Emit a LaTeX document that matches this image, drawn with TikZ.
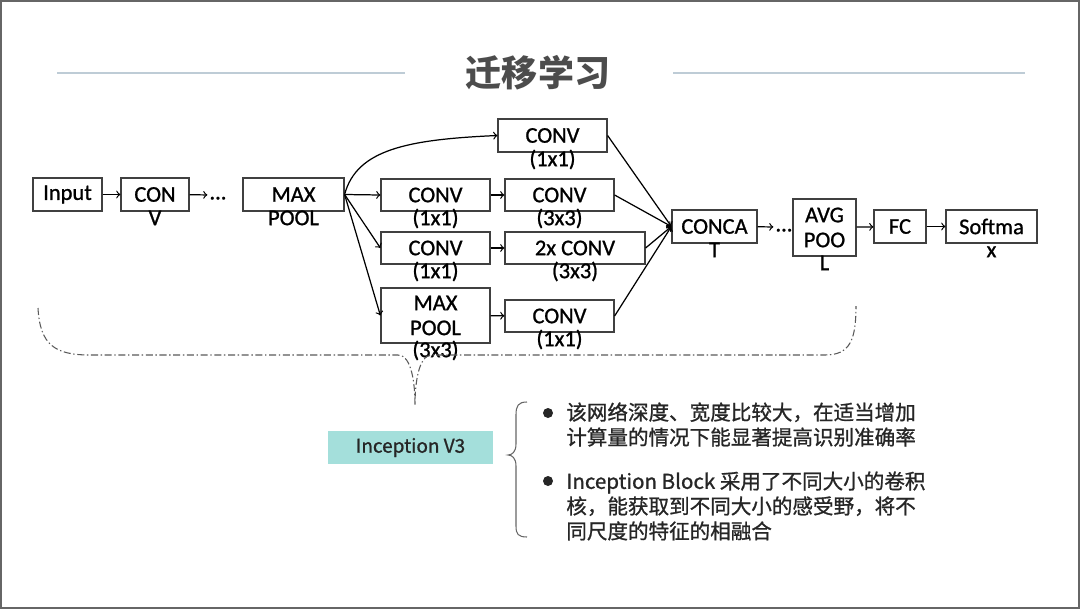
\documentclass[tikz,border=0pt]{standalone}
\usepackage{fontspec}
\setmainfont{Carlito}
\newfontfamily\boxfam[FakeBold=1]{Carlito}
\newfontfamily\cjk{Noto Sans CJK SC}
\newfontfamily\cjkm[FakeBold=1]{Noto Sans CJK SC}
\usepackage{tikz}
\newcommand{\blkfont}{\boxfam\fontsize{12.8}{14.2}\selectfont}
\definecolor{tealbox}{RGB}{164,223,219}
\definecolor{rulegray}{RGB}{190,204,214}

\begin{document}
\begin{tikzpicture}[x=0.02cm, y=-0.02cm,
  blk/.style={draw=black!75, line width=0.7pt, font=\blkfont, inner sep=0pt, minimum height=0.66cm, align=center},
  lbl/.style={font=\blkfont, inner sep=0pt, text height=.75em, text depth=.25em},
  every label/.style={lbl}, label distance=0pt,
  dots/.style={font=\blkfont, inner sep=1pt, text height=.75em, text depth=.25em},
  arr/.style={->, line width=0.7pt},
  brc/.style={black!65, line width=0.6pt, dash pattern=on 4pt off 1.5pt on 0.8pt off 1.5pt},
  bul/.style={circle, fill=black!85, inner sep=0pt, minimum size=0.2cm},
  txt/.style={font=\cjkm\fontsize{11.7}{14.2}\selectfont, align=left, inner sep=0pt, text=black!85}]
 \useasboundingbox (0,0) rectangle (1080,609);
 \draw[black!60, line width=0.04cm] (1,1) rectangle (1079,608);

 \node[font=\cjk\bfseries\fontsize{20.5}{24}\selectfont, text=black!70] (title) at (538,73) {迁移学习};
 \draw[rulegray, line width=0.6pt] (57,73) -- (405,73);
 \draw[rulegray, line width=0.6pt] (673,73) -- (1025,73);

 \node[blk, minimum width=1.38cm] (in) at (67.5,194.5) {Input};
 \node[blk, minimum width=1.36cm, label=below:V] (c1) at (155,194.5) {CON};
 \node[dots] (d1) at (218,195) {...};
 \node[blk, minimum width=2.02cm, label=below:POOL] (mp) at (293.5,194.5) {MAX};

 \node[blk, minimum width=2.18cm, label=below:(1x1)] (t1) at (552.5,135.5) {CONV};
 \node[blk, minimum width=2.18cm, minimum height=0.64cm, label=below:(1x1)] (a1) at (435.5,195) {CONV};
 \node[blk, minimum width=2.18cm, minimum height=0.64cm, label=below:(3x3)] (a2) at (559.5,195) {CONV};
 \node[blk, minimum width=2.18cm, minimum height=0.64cm, label=below:(1x1)] (b1) at (435.5,248) {CONV};
 \node[blk, minimum width=2.8cm, minimum height=0.64cm, label=below:(3x3)] (b2) at (575,248) {2x CONV};
 \node[blk, minimum width=2.18cm, minimum height=1.1cm, label=below:(3x3)] (p1) at (435.5,315.5) {MAX\\POOL};
 \node[blk, minimum width=2.18cm, minimum height=0.64cm, label=below:(1x1)] (p2) at (559.5,316) {CONV};

 \node[blk, minimum width=1.7cm, label=below:T] (cc) at (714.5,226.5) {CONCA};
 \node[dots] (d2) at (784,227) {...};
 \node[blk, minimum width=1.26cm, minimum height=1.14cm, label=below:L] (av) at (824.5,227.5) {AVG\\POO};
 \node[blk, minimum width=1.04cm] (fc) at (900,226.5) {FC};
 \node[blk, minimum width=1.82cm, label=below:x] (sm) at (991.5,226.5) {Softma};

 \path[arr]
  (in) edge (c1)
  (c1) edge (d1)
  (mp.east) edge (a1.west)
  (mp.east) edge (b1.west)
  (mp.east) edge (p1.west)
  (a1) edge (a2)
  (b1) edge (b2)
  (p1) edge (p2)
  (t1.east) edge (cc.west)
  (a2.east) edge (cc.west)
  (b2.east) edge (cc.west)
  (p2.east) edge (cc.west)
  (cc) edge (d2)
  (av) edge (fc)
  (fc) edge (sm);
 \draw[arr] (mp.east) .. controls +(12,-45) and +(-90,4) .. (t1.west);

 \draw[brc] (38,308) .. controls (40,345) and (55,355) .. (90,355) -- (398,355)
  .. controls (412,355) and (415,385) .. (415,405)
  .. controls (415,385) and (418,355) .. (432,355) -- (825,355)
  .. controls (850,355) and (856,340) .. (856,306);

 \node[fill=tealbox, minimum width=3.3cm, minimum height=0.66cm, font=\cjkm\fontsize{10.8}{13}\selectfont, text=black!85] (iv3) at (410.5,447.5) {Inception V3};

 \draw[black!60, line width=0.6pt] (527,402) .. controls (518,402) and (516,406) .. (516,415) -- (516,444)
  .. controls (516,452) and (512,455) .. (508,455) .. controls (512,455) and (516,458) .. (516,466)
  -- (516,526) .. controls (516,534) and (518,537) .. (527,537);

 \node[bul] (ba) at (548,413) {};
 \node[txt, anchor=west] (ta) at (566,424.5) {该网络深度、宽度比较大，在适当增加\\计算量的情况下能显著提高识别准确率};
 \node[bul] (bb) at (548,481) {};
 \node[txt, anchor=west] (tb) at (566,506) {Inception Block 采用了不同大小的卷积\\核，能获取到不同大小的感受野，将不\\同尺度的特征的相融合};
\end{tikzpicture}
\end{document}
